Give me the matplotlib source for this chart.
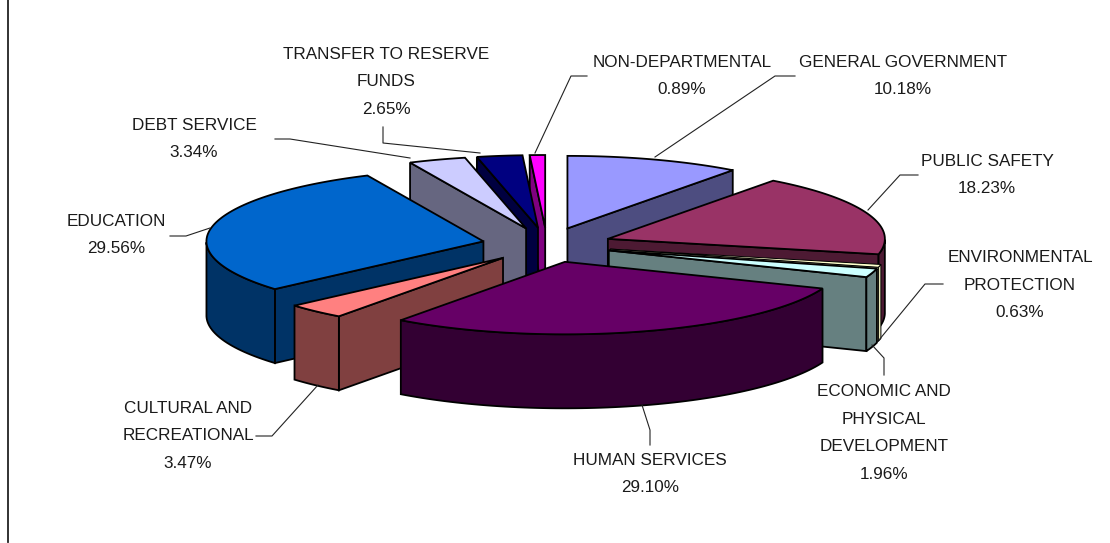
import numpy as np
import matplotlib
matplotlib.use('Agg')
import matplotlib.pyplot as plt
from matplotlib.patches import Polygon

departments = ['GENERAL GOVERNMENT', 'PUBLIC SAFETY', 'ENVIRONMENTAL\nPROTECTION',
               'ECONOMIC AND\nPHYSICAL\nDEVELOPMENT', 'HUMAN SERVICES',
               'CULTURAL AND\nRECREATIONAL', 'EDUCATION', 'DEBT SERVICE',
               'TRANSFER TO RESERVE\nFUNDS', 'NON-DEPARTMENTAL']
shares = [10.18, 18.23, 0.63, 1.96, 29.10, 3.47, 29.56, 3.34, 2.65, 0.89]

top_colors = ['#9999FF', '#993366', '#FFFFCC', '#CCFFFF', '#660066',
              '#FF8080', '#0066CC', '#CCCCFF', '#000080', '#FF00FF']
side_colors = ['#4D4D80', '#4D1A33', '#E8E8B8', '#668080', '#330033',
               '#804040', '#003366', '#666680', '#000040', '#800080']

# label centre, then the leader line from the label to its slice
label_pos = [(903, 76), (987, 175), (1020, 285), (884, 433), (650, 474),
             (188, 436), (116, 235), (194, 139), (386, 82), (682, 76)]
leaders = [[(795, 76), (775, 76), (655, 157)],
           [(918, 175), (900, 175), (868, 210)],
           [(943, 284), (925, 284), (879, 340)],
           [(884, 375), (884, 358), (872, 345)],
           [(650, 445), (650, 430), (642, 405)],
           [(256, 436), (272, 436), (318, 385)],
           [(170, 236), (186, 236), (210, 228)],
           [(275, 139), (290, 139), (410, 158)],
           [(383, 127), (383, 143), (480, 153)],
           [(587, 76), (571, 76), (535, 153)]]

cx, cy = 547, 245
rx, ry = 277, 72.5
ex, ey = 65, 17.5
depth = 74

fig = plt.figure(figsize=(11.10, 5.43), dpi=100)
ax = fig.add_axes([0, 0, 1, 1])
ax.set_xlim(0, 1110)
ax.set_ylim(543, 0)
ax.axis('off')


def project(tip, ang):
    return tip[0] + rx * np.cos(ang), tip[1] - ry * np.sin(ang)


def wall(top_pts, color, z, lw):
    top_pts = np.array(top_pts)
    low = top_pts[::-1] + [0, depth]
    ax.add_patch(Polygon(np.vstack([top_pts, low]), closed=True, fc=color, ec='black', lw=lw, zorder=z))


fracs = np.array(shares) / sum(shares)
edges = np.pi / 2 - 2 * np.pi * np.concatenate([[0], np.cumsum(fracs)])
mids = (edges[:-1] + edges[1:]) / 2

# back slices first
order = np.argsort(-np.sin(mids))
for z, i in enumerate(order):
    a1, a2, mid = edges[i], edges[i + 1], mids[i]
    tip = (cx + ex * np.cos(mid), cy - ey * np.sin(mid))
    base = z * 10 + 10
    # very thin slices vanish under a full width outline
    lw = 0.7 if fracs[i] < 0.008 else 1.3
    if np.cos(a1) < 0:
        wall([tip, project(tip, a1)], side_colors[i], base, lw)
    if np.cos(a2) > 0:
        wall([tip, project(tip, a2)], side_colors[i], base, lw)
    angs = np.linspace(a1, a2, 80)
    front = angs[np.sin(angs) < 0]
    if len(front) > 1:
        wall([project(tip, t) for t in front], side_colors[i], base + 1, lw)
    rim = [tip] + [project(tip, t) for t in angs]
    ax.add_patch(Polygon(rim, closed=True, fc=top_colors[i], ec='black', lw=lw, zorder=base + 2))

for i, name in enumerate(departments):
    ax.text(label_pos[i][0], label_pos[i][1], f'{name}\n{shares[i]:.2f}%', ha='center', va='center',
            family='Liberation Sans', fontsize=12.3, color='#1a1a1a', linespacing=2.05, zorder=500)
    xs, ys = zip(*leaders[i])
    ax.plot(xs, ys, color='#222222', lw=0.8, zorder=400)

ax.plot([7.5, 7.5], [0, 542], color='#222222', lw=1.3)

fig.savefig('out.png', dpi=100, facecolor='white')
